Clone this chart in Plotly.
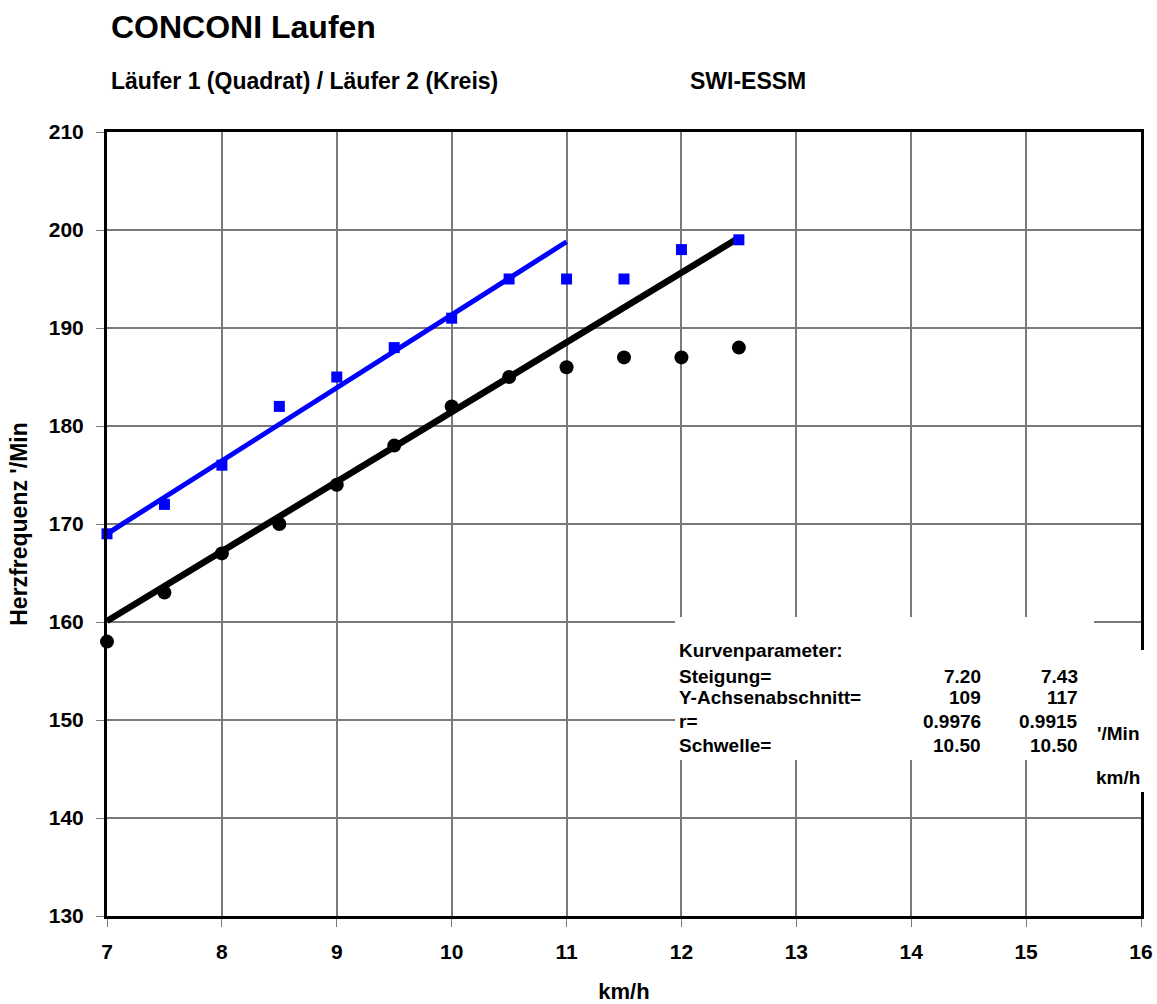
import plotly.graph_objects as go

# ---- data ----
speed = [7, 7.5, 8, 8.5, 9, 9.5, 10, 10.5, 11, 11.5, 12, 12.5]
hr_runner1 = [169, 172, 176, 182, 185, 188, 191, 195, 195, 195, 198, 199]   # squares (blue)
hr_runner2 = [158, 163, 167, 170, 174, 178, 182, 185, 186, 187, 187, 188]   # circles (black)

fit1_x = [7, 11]
fit1_y = [169.0, 198.8]
fit2_x = [7, 12.5]
fit2_y = [160.1, 199.2]

x_ticks = [7, 8, 9, 10, 11, 12, 13, 14, 15, 16]
y_ticks = [130, 140, 150, 160, 170, 180, 190, 200, 210]

param_labels = ["Steigung=", "Y-Achsenabschnitt=", "r=", "Schwelle="]
param_col1 = ["7.20", "109", "0.9976", "10.50"]
param_col2 = ["7.43", "117", "0.9915", "10.50"]

# ---- layout geometry (pixels) ----
W, H = 1157, 1004
L, R, T, B = 107, 16, 132, 88
PW, PH = W - L - R, H - T - B

def px(x):
    return (x - L) / PW

def py(y):
    return (H - B - y) / PH

FONT = "Liberation Sans, Arial, sans-serif"

fig = go.Figure()
fig.add_trace(go.Scatter(x=fit2_x, y=fit2_y, mode="lines",
                         line=dict(color="black", width=6.5), showlegend=False, hoverinfo="skip"))
fig.add_trace(go.Scatter(x=fit1_x, y=fit1_y, mode="lines",
                         line=dict(color="#0000ff", width=5), showlegend=False, hoverinfo="skip"))
fig.add_trace(go.Scatter(x=speed, y=hr_runner2, mode="markers",
                         marker=dict(symbol="circle", size=14, color="black"),
                         showlegend=False, cliponaxis=False))
fig.add_trace(go.Scatter(x=speed, y=hr_runner1, mode="markers",
                         marker=dict(symbol="square", size=11, color="#0000ff"),
                         showlegend=False, cliponaxis=False))

axis_common = dict(
    showgrid=True, gridcolor="#7a7a7a", gridwidth=1.5,
    showline=True, linecolor="black", linewidth=3, mirror=True,
    ticks="outside", ticklen=8, tickcolor="#7a7a7a", tickwidth=1,
    tickfont=dict(family=FONT, size=21, color="black", weight="bold"),
    zeroline=False, automargin=False,
)

fig.update_xaxes(range=[7, 16], tickvals=x_ticks, ticklabelstandoff=7,
                 title=dict(text="<b>km/h</b>", font=dict(family=FONT, size=22, color="black"),
                            standoff=26),
                 **axis_common)
fig.update_yaxes(range=[130, 210], tickvals=y_ticks, ticklabelstandoff=8,
                 title=dict(text="<b>Herzfrequenz '/Min</b>", font=dict(family=FONT, size=23, color="black"),
                            standoff=15),
                 **axis_common)

shapes = [
    dict(type="rect", xref="paper", yref="paper", layer="above",
         x0=px(675), x1=px(1094), y0=py(760), y1=py(617),
         fillcolor="white", line=dict(width=0)),
    dict(type="rect", xref="paper", yref="paper", layer="above",
         x0=px(1094), x1=px(1157), y0=py(792), y1=py(650),
         fillcolor="white", line=dict(width=0)),
]

ann = []
def text(s, x, y, size, xanchor="left"):
    ann.append(dict(text="<b>" + s + "</b>", x=px(x), y=py(y), xref="paper", yref="paper",
                    xanchor=xanchor, yanchor="middle", showarrow=False,
                    font=dict(family=FONT, size=size, color="black")))

text("CONCONI Laufen", 109, 27, 32)
text("Läufer 1 (Quadrat) / Läufer 2 (Kreis)", 109, 81, 23)
text("SWI-ESSM", 688, 81, 23)

text("Kurvenparameter:", 677, 650, 19)
row_y = [676, 697, 721, 745]
for lab, v1, v2, yy in zip(param_labels, param_col1, param_col2, row_y):
    text(lab, 677, yy, 19)
    text(v1, 983, yy, 19, xanchor="right")
    text(v2, 1080, yy, 19, xanchor="right")
text("'/Min", 1142, 733, 19, xanchor="right")
text("km/h", 1142, 777, 19, xanchor="right")

fig.update_layout(
    width=W, height=H, autosize=False,
    margin=dict(l=L, r=R, t=T, b=B, pad=0),
    paper_bgcolor="white", plot_bgcolor="white",
    shapes=shapes, annotations=ann,
    font=dict(family=FONT, color="black"),
)

fig.write_html("out.html", config={"displayModeBar": False},
               post_script="document.body.style.margin='0';")
